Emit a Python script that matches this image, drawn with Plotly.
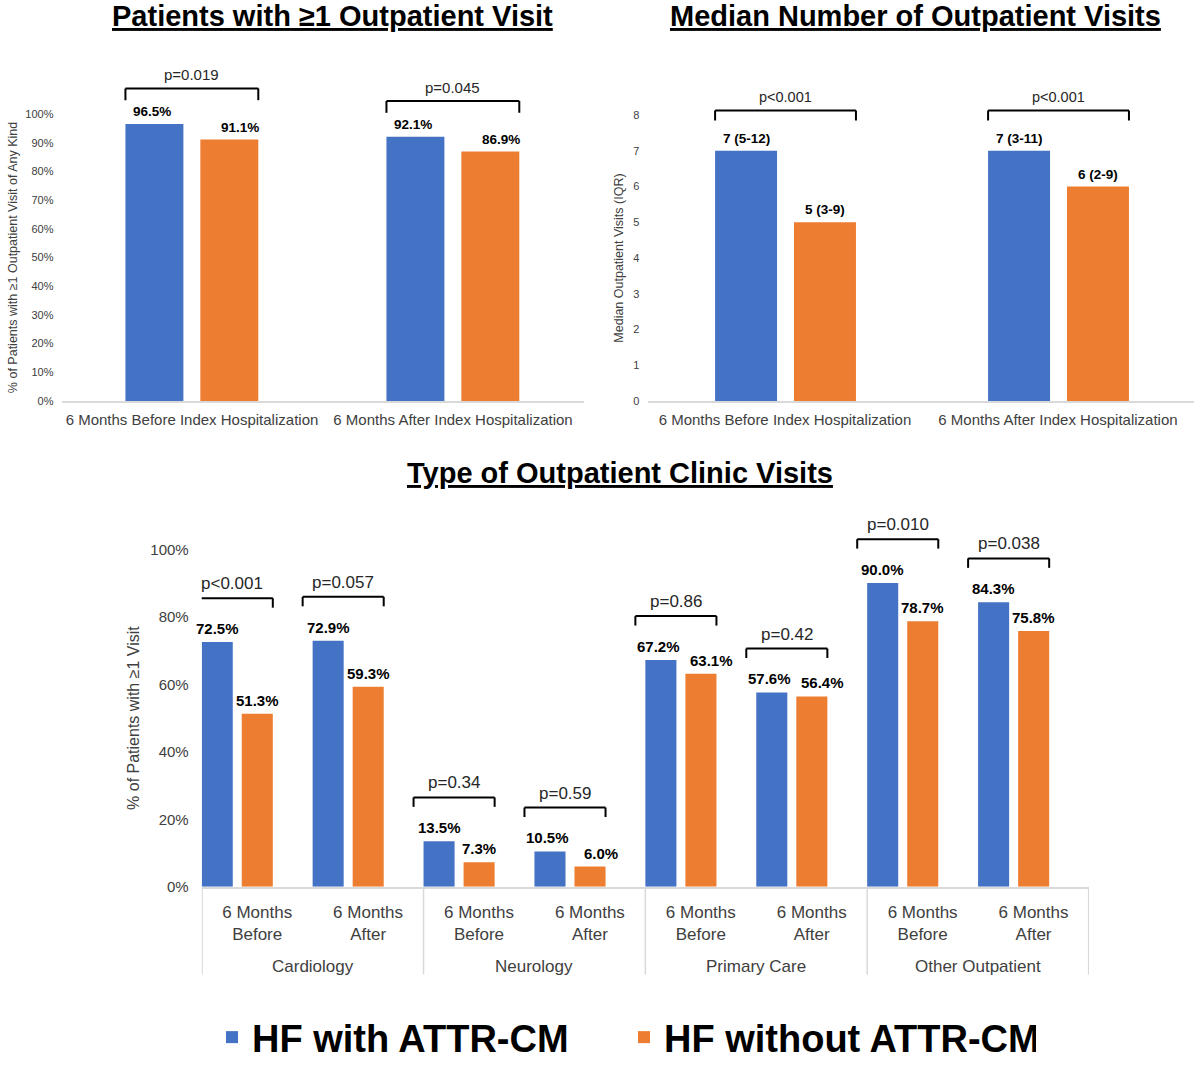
import plotly.graph_objects as go

# ---------------- data ----------------
series_names = ["HF with ATTR-CM", "HF without ATTR-CM"]
series_colors = ["#4472C4", "#ED7D31"]

# Panel A: patients with >=1 outpatient visit
periods = ["6 Months Before Index Hospitalization", "6 Months After Index Hospitalization"]
any_visit_attr = [96.5, 92.1]
any_visit_noattr = [91.1, 86.9]
any_visit_p = ["p=0.019", "p=0.045"]
any_visit_ticks = list(range(0, 101, 10))

# Panel B: median number of outpatient visits
median_attr = [7, 7]
median_noattr = [5, 6]
median_attr_labels = ["7 (5-12)", "7 (3-11)"]
median_noattr_labels = ["5 (3-9)", "6 (2-9)"]
median_p = ["p<0.001", "p<0.001"]

# Panel C: type of outpatient clinic visits
clinic_types = ["Cardiology", "Neurology", "Primary Care", "Other Outpatient"]
windows = ["6 Months<br>Before", "6 Months<br>After"]
clinic_attr = [72.5, 72.9, 13.5, 10.5, 67.2, 57.6, 90.0, 84.3]
clinic_noattr = [51.3, 59.3, 7.3, 6.0, 63.1, 56.4, 78.7, 75.8]
clinic_p = ["p<0.001", "p=0.057", "p=0.34", "p=0.59", "p=0.86", "p=0.42", "p=0.010", "p=0.038"]

# ---------------- style ----------------
AX_TEXT = "#404040"
LINE_GRAY = "#D9D9D9"
SANS = "Arial, Liberation Sans, sans-serif"

DOM_A = dict(x=[0.05125, 0.48625], y=[0.6285, 0.9005], rmax=100)
DOM_B = dict(x=[0.5404, 0.9954], y=[0.6285, 0.8994], rmax=8)
DOM_C = dict(x=[0.1681, 0.9075], y=[0.1679, 0.4879], rmax=100)


def to_paper(v, dom):
    return dom["y"][0] + (dom["y"][1] - dom["y"][0]) * v / dom["rmax"]


fig = go.Figure()
shapes = []
annotations = []


def add_panel(xs, vals_list, labels_list, xa, ya, offsets, width, dom, pvals,
              gap, leg, label_size, p_size, show_legend, bracket_pad):
    n = len(vals_list[0])
    for k in range(2):
        fig.add_trace(go.Bar(
            x=xs, y=vals_list[k], name=series_names[k],
            marker=dict(color=series_colors[k], line=dict(width=0)),
            offset=offsets[k], width=width,
            xaxis=xa, yaxis=ya, showlegend=show_legend,
            legendgroup=series_names[k], hoverinfo="skip",
        ))
    for i in range(n):
        a, b = vals_list[0][i], vals_list[1][i]
        close = abs(a - b) / dom["rmax"] < 0.06
        for k in range(2):
            v = vals_list[k][i]
            shift = 0
            if close:
                shift = 11 if k == 1 else -2
            annotations.append(dict(
                x=i + offsets[k] + width / 2, y=v, xref=xa, yref=ya,
                text=labels_list[k][i], showarrow=False, yanchor="bottom",
                xanchor="center", yshift=3, xshift=shift,
                font=dict(family=SANS, size=label_size, color="#000000", weight="bold"),
            ))
        top = max(a, b) + gap
        x0 = i + offsets[0] - bracket_pad
        x1 = i + offsets[1] + width
        yt = to_paper(top, dom)
        yl = to_paper(top - leg, dom)
        lw = dict(color="#000000", width=2)
        shapes.append(dict(type="line", xref=xa, yref="paper", x0=x0, x1=x1, y0=yt, y1=yt, line=lw))
        shapes.append(dict(type="line", xref=xa, yref="paper", x0=x0, x1=x0, y0=yt, y1=yl, line=lw))
        shapes.append(dict(type="line", xref=xa, yref="paper", x0=x1, x1=x1, y0=yt, y1=yl, line=lw))
        annotations.append(dict(
            x=(x0 + x1) / 2, y=yt, xref=xa, yref="paper", text=pvals[i],
            showarrow=False, yanchor="bottom", yshift=3,
            font=dict(family=SANS, size=p_size, color="#262626"),
        ))


# Panel A
add_panel(periods, [any_visit_attr, any_visit_noattr],
          [[f"{v:.1f}%" for v in any_visit_attr], [f"{v:.1f}%" for v in any_visit_noattr]],
          "x", "y", [-0.255, 0.032], 0.222, DOM_A, any_visit_p,
          gap=12.4, leg=4.1, label_size=13.5, p_size=15, show_legend=False, bracket_pad=0.0)

# Panel B
add_panel(periods, [median_attr, median_noattr],
          [median_attr_labels, median_noattr_labels],
          "x2", "y2", [-0.256, 0.033], 0.227, DOM_B, median_p,
          gap=1.13, leg=0.28, label_size=13.5, p_size=14.5, show_legend=False, bracket_pad=0.0)

# Panel C (clinic type x time window, two-level category axis)
clinic_pos = list(range(len(clinic_types) * len(windows)))
clinic_ticktext = [w for _ in clinic_types for w in windows]
add_panel(clinic_pos, [clinic_attr, clinic_noattr],
          [[f"{v:.1f}%" for v in clinic_attr], [f"{v:.1f}%" for v in clinic_noattr]],
          "x3", "y3", [-0.5, -0.139], 0.28, DOM_C, clinic_p,
          gap=13, leg=2.8, label_size=15, p_size=17, show_legend=True, bracket_pad=0.09)

# group labels and dividers of the two-level axis
nw = len(windows)
for g, name in enumerate(clinic_types):
    annotations.append(dict(
        x=g * nw + (nw - 1) / 2, y=1 - 973 / 1072, xref="x3", yref="paper", text=name,
        showarrow=False, xanchor="center", yanchor="middle",
        font=dict(family=SANS, size=17, color=AX_TEXT),
    ))
for g in range(len(clinic_types) + 1):
    xd = g * nw - 0.5
    xd = min(max(xd, -0.497), len(clinic_pos) - 0.503)
    shapes.append(dict(type="line", xref="x3", yref="paper", x0=xd, x1=xd,
                       y0=DOM_C["y"][0], y1=1 - 981 / 1072,
                       line=dict(color=LINE_GRAY, width=1.5)))

# Titles
for txt, xc, yp in [("Patients with ≥1 Outpatient Visit", 332, 7),
                    ("Median Number of Outpatient Visits", 915, 7),
                    ("Type of Outpatient Clinic Visits", 620, 471)]:
    annotations.append(dict(
        x=xc / 1200, y=1 - yp / 1072, xref="paper", yref="paper", text=txt,
        showarrow=False, xanchor="center", yanchor="middle",
        font=dict(family=SANS, size=29, color="#000000", weight="bold", lineposition="under"),
    ))

cat_axis_common = dict(showline=True, linecolor=LINE_GRAY, linewidth=1.5, showgrid=False,
                       zeroline=False, ticks="", fixedrange=True)

fig.update_layout(
    width=1200, height=1072,
    margin=dict(l=0, r=0, t=0, b=0),
    paper_bgcolor="white", plot_bgcolor="white",
    barmode="group",
    font=dict(family=SANS, color=AX_TEXT),
    xaxis=dict(domain=DOM_A["x"], anchor="y", tickfont=dict(size=15, color=AX_TEXT),
               ticklabelstandoff=4, **cat_axis_common),
    yaxis=dict(domain=DOM_A["y"], anchor="x", range=[0, 100], tickmode="array",
               tickvals=any_visit_ticks, ticktext=[f"{v}%" for v in any_visit_ticks],
               showgrid=False, zeroline=False, showline=False,
               tickfont=dict(size=11, color=AX_TEXT), ticklabelstandoff=7,
               title=dict(text="% of Patients with ≥1 Outpatient Visit of Any Kind",
                          font=dict(size=12.5, color=AX_TEXT), standoff=4)),
    xaxis2=dict(domain=DOM_B["x"], anchor="y2", tickfont=dict(size=15, color=AX_TEXT),
                ticklabelstandoff=4, **cat_axis_common),
    yaxis2=dict(domain=DOM_B["y"], anchor="x2", range=[0, 8], dtick=1,
                showgrid=False, zeroline=False, showline=False,
                tickfont=dict(size=11, color=AX_TEXT), ticklabelstandoff=8,
                title=dict(text="Median Outpatient Visits (IQR)",
                           font=dict(size=12.5, color=AX_TEXT), standoff=6)),
    xaxis3=dict(domain=DOM_C["x"], anchor="y3", range=[-0.5, len(clinic_pos) - 0.5],
                tickmode="array", tickvals=clinic_pos, ticktext=clinic_ticktext,
                tickfont=dict(size=17, color=AX_TEXT), ticklabelstandoff=9,
                **cat_axis_common),
    yaxis3=dict(domain=DOM_C["y"], anchor="x3", range=[0, 100], dtick=20, ticksuffix="%",
                showgrid=False, zeroline=False, showline=False,
                tickfont=dict(size=15, color=AX_TEXT), ticklabelstandoff=12,
                title=dict(text="% of Patients with ≥1 Visit",
                           font=dict(size=16, color=AX_TEXT), standoff=6)),
    legend=dict(orientation="h", x=212 / 1200, xanchor="left",
                y=1 - 1045 / 1072, yanchor="middle",
                font=dict(family=SANS, size=38, color="#000000", weight="bold"),
                entrywidth=367, entrywidthmode="pixels",
                itemwidth=30, bgcolor="rgba(0,0,0,0)"),
    shapes=shapes,
    annotations=annotations,
    hovermode=False,
)

fig.write_html("out.html")
